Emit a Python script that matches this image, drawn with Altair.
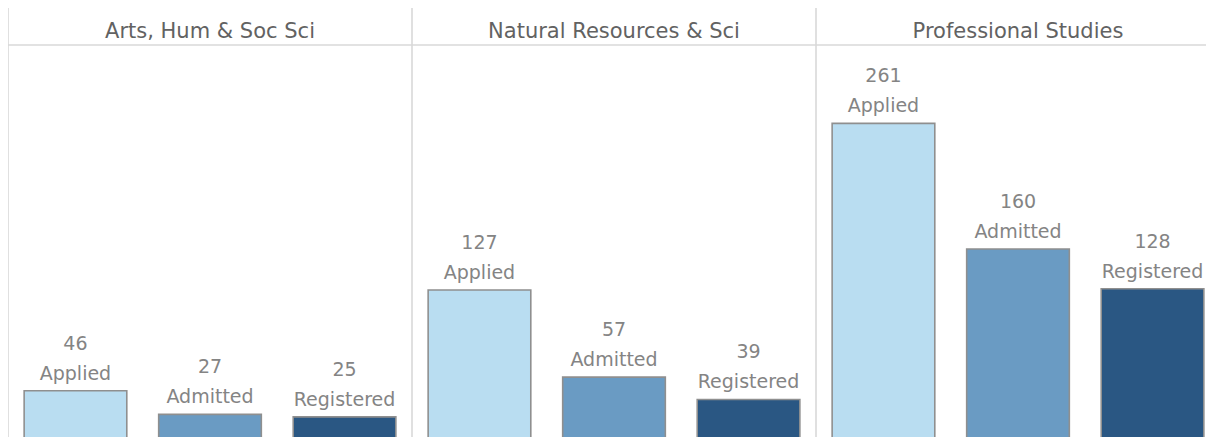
import altair as alt
import pandas as pd

colleges = ["Arts, Hum & Soc Sci", "Natural Resources & Sci", "Professional Studies"]
stages = ["Applied", "Admitted", "Registered"]
applied = [46, 127, 261]
admitted = [27, 57, 160]
registered = [25, 39, 128]
stage_colors = ["#b9ddf1", "#6a9bc3", "#2a5783"]

rows = []
for i, c in enumerate(colleges):
    for s, vals in zip(stages, [applied, admitted, registered]):
        rows.append({"college": c, "stage": s, "count": vals[i]})
df = pd.DataFrame(rows)
head_df = pd.DataFrame({"college": colleges})
sep_df = pd.DataFrame({"k": [0]})

W = 1198
H = 429
FONT = "DejaVu Sans"

x_scale = alt.Scale(paddingInner=0, paddingOuter=0, range=[0, 1212])
x_col = alt.X("college:N", sort=colleges, axis=None, scale=x_scale)
y_val = alt.Y("count:Q", axis=None,
              scale=alt.Scale(domain=[0, 353.8], range=[440, 0], nice=False, zero=True))
x_off = alt.XOffset("stage:N", sort=stages,
                    scale=alt.Scale(paddingInner=0.237, paddingOuter=0.12))

bars = alt.Chart(df).mark_bar(stroke="#8f8f8f", strokeWidth=1.6).encode(
    x=x_col,
    xOffset=x_off,
    y=y_val,
    color=alt.Color("stage:N", sort=stages, legend=None,
                    scale=alt.Scale(domain=stages, range=stage_colors)),
)

stage_labels = alt.Chart(df).mark_text(
    font=FONT, fontSize=19, color="#848484",
    baseline="alphabetic", dy=-11
).encode(
    x=x_col,
    xOffset=x_off,
    y=y_val,
    text="stage:N",
)

count_labels = alt.Chart(df).mark_text(
    font=FONT, fontSize=19, color="#848484",
    baseline="alphabetic", dy=-41
).encode(
    x=x_col,
    xOffset=x_off,
    y=y_val,
    text="count:Q",
)

vlines = alt.Chart(head_df).mark_rule(color="#d9d9d9", strokeWidth=1.6).encode(
    x=alt.X("college:N", sort=colleges, axis=None, bandPosition=0, scale=x_scale),
)

hline = alt.Chart(sep_df).mark_rule(color="#d9d9d9", strokeWidth=1.5).encode(
    y=alt.value(37),
)

headers = alt.Chart(head_df).mark_text(
    font=FONT, fontSize=21, color="#626262", baseline="alphabetic"
).encode(
    x=x_col,
    y=alt.value(30),
    text="college:N",
)

chart = alt.layer(vlines, hline, headers, bars, stage_labels, count_labels).properties(
    width=W, height=H, padding=0,
    autosize=alt.AutoSizeParams(type="none"),
).configure_view(stroke=None)

chart.save("out.html", embed_options={"renderer": "svg", "actions": False})
